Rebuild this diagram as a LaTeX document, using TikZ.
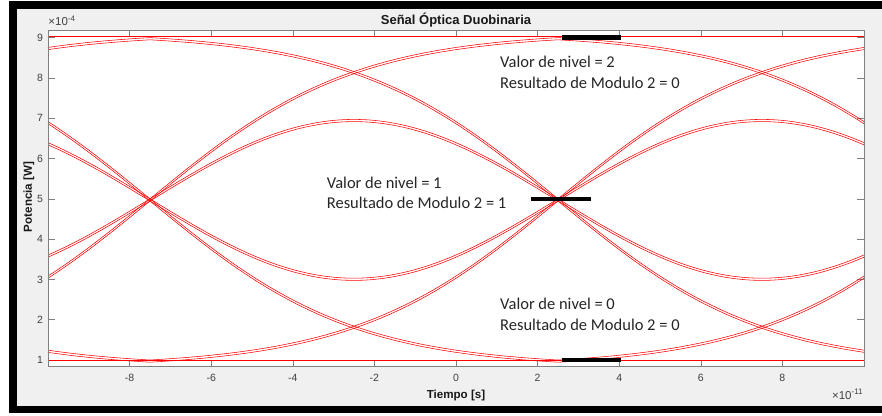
\documentclass[tikz,border=0pt]{standalone}
\usepackage{fontspec}
\setmainfont{Liberation Sans}
\newfontfamily\calibri{Carlito}
\usepackage{tikz}

\begin{document}
\begin{tikzpicture}[x=40.8pt, y=40.3pt,
  trace/.style={red, line width=0.55pt, smooth, samples=50},
  axisline/.style={black!50, line width=0.5pt},
  ticklab/.style={black!75, font=\fontsize{10.5}{12}\selectfont},
  axlab/.style={black!90, font=\fontsize{11.6}{13}\selectfont\bfseries},
  note/.style={anchor=base west, inner sep=0pt, black!85, font=\calibri\fontsize{16.5}{20}\selectfont},
  levelbar/.style={black, line width=4.5pt}]
\useasboundingbox (-11.176,-0.365) rectangle (10.441,9.933);
% window and frame
\fill [white] (-11.176,-0.365) rectangle (10.441,9.933);
\fill [black] (-10.956,-0.323) rectangle (10.441,9.908);
\fill [black!6] (-10.760,-0.141) rectangle (10.441,9.702);
% axes
\fill [white] (-10,0.834) rectangle (10,9.189);
\foreach \i in {-8,-6,...,8} {
  \draw [axisline] (\i,0.834) -- ++(0,0.174);
  \draw [axisline] (\i,9.189) -- ++(0,-0.174);
}
\foreach \j in {1,...,9} {
  \draw [axisline] (-10,\j) -- ++(0.17,0);
  \draw [axisline] (10,\j) -- ++(-0.17,0);
}
% eye traces
\draw [red, line width=1pt] (-10,9.03) -- (10,9.03);
\draw [red, line width=1pt] (-10,1) -- (10,1);
\foreach \dy in {0pt,-2.2pt} {
  \begin{scope}[yshift=\dy]
    \foreach \m/\a/\b in {-17.5/-10/-7.5, -7.5/-10/2.5, 2.5/-7.5/10, 12.5/2.5/10} {
      \draw [trace, domain=\a:\b] plot (\x, {5+4.149*tanh(0.2*(\x-(\m)))});
      \draw [trace, domain=\a:\b] plot (\x, {5-4.149*tanh(0.2*(\x-(\m)))});
    }
    \foreach \p/\a/\b in {-17.5/-10/-7.5, -7.5/-7.5/2.5, 2.5/2.5/10} {
      \draw [trace, domain=\a:\b] plot (\x, {5+1.97*sin(18*(\x-(\p)))});
      \draw [trace, domain=\a:\b] plot (\x, {5-1.97*sin(18*(\x-(\p)))});
    }
  \end{scope}
}
\draw [axisline] (-10,0.834) rectangle (10,9.189);
% level marks
\draw [levelbar] (2.59,9) -- (4.04,9);
\draw [levelbar] (1.84,5) -- (3.31,5);
\draw [levelbar] (2.59,1) -- (4.04,1);
% labels
\foreach \i in {-8,-6,...,8}
  \node (xt\i) [ticklab, anchor=base] at (\i,0.46) {\i};
\foreach \j in {1,...,9}
  \node (yt\j) [ticklab, anchor=east, inner sep=0pt] at (-10.115,\j) {\j};
\node (yexp) [ticklab, font=\fontsize{11.5}{13}\selectfont, anchor=base west, inner sep=0pt] at (-9.993,9.288) {×10\textsuperscript{-4}};
\node (xexp) [ticklab, font=\fontsize{11.5}{13}\selectfont, anchor=base east, inner sep=0pt] at (9.983,0.032) {×10\textsuperscript{-11}};
\node (title) [axlab, font=\fontsize{13}{15}\selectfont\bfseries, anchor=base] at (0,9.337) {Señal Óptica Duobinaria};
\node (xlab) [axlab, anchor=base] at (0,0.05) {Tiempo [s]};
\node (ylab) [axlab, rotate=90] at (-10.466,5.045) {Potencia [W]};
\node (nivel2) [note] at (1.078,8.263) {Valor de nivel = 2};
\node (modulo2) [note] at (1.078,7.742) {Resultado de Modulo 2 = 0};
\node (nivel1) [note] at (-3.169,5.261) {Valor de nivel = 1};
\node (modulo1) [note] at (-3.169,4.747) {Resultado de Modulo 2 = 1};
\node (nivel0) [note] at (1.078,2.241) {Valor de nivel = 0};
\node (modulo0) [note] at (1.078,1.744) {Resultado de Modulo 2 = 0};
\end{tikzpicture}
\end{document}
